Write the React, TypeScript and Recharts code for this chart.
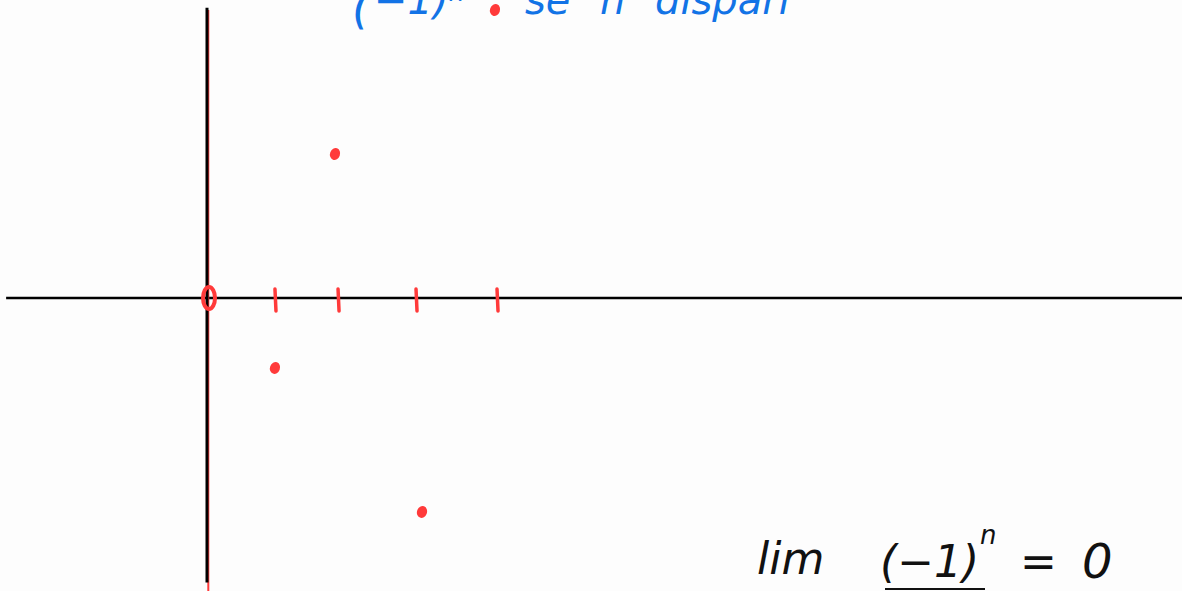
import React from "react";
import { ScatterChart, Scatter, XAxis, YAxis, ReferenceLine } from "recharts";

// sequence a_n = (-1)^n * n, sketched by hand (positions, in units)
const seqX = [0.944, 1.778, 2.986, 4.0];
const seqY = [-0.972, 2.0, -2.972, 4.0];
const tickX = [0.944, 1.82, 2.903, 4.028];
const originLabel = "0";
const topText = ["(", "−1)ⁿ", "se", "n", "dispari"];

const points = seqX.map((x, i) => ({ x, y: seqY[i] }));
const ticks = tickX.map((x) => ({ x, y: 0 }));
const origin = [{ x: 0, y: 0 }];

const RED = "#ff3a3a";
const BLUE = "#1273e6";

const W = 1182;
const H = 591;
const UNIT = 72;
const OX = 207;
const OY = 298;
const xDomain: [number, number] = [-OX / UNIT, (W - OX) / UNIT];
const yDomain: [number, number] = [-(H - OY) / UNIT, OY / UNIT];

const Dot = (p: any) => (
  <ellipse cx={p.cx} cy={p.cy} rx={5} ry={6} fill={RED} transform={`rotate(20 ${p.cx} ${p.cy})`} />
);
const Tick = (p: any) => (
  <line x1={p.cx} y1={p.cy - 9} x2={p.cx + 1} y2={p.cy + 13} stroke={RED} strokeWidth={3.5} strokeLinecap="round" />
);
const Zero = (p: any) => (
  <ellipse cx={p.cx + 2} cy={p.cy} rx={6} ry={11} fill="none" stroke={RED} strokeWidth={4} />
);

export default function App() {
  const hand: React.CSSProperties = {
    position: "absolute",
    fontFamily: "'DejaVu Sans', sans-serif",
    fontStyle: "italic",
    fontWeight: 300,
    whiteSpace: "nowrap",
    lineHeight: 1,
  };
  return (
    <div style={{ position: "absolute", left: 0, top: 0, width: W, height: H, background: "#fdfdfd", overflow: "hidden" }}>
      <ScatterChart width={W} height={H} margin={{ top: 0, right: 0, bottom: 0, left: 0 }}>
        <XAxis type="number" dataKey="x" domain={xDomain} hide allowDataOverflow />
        <YAxis type="number" dataKey="y" domain={yDomain} hide allowDataOverflow />
        <ReferenceLine
          segment={[{ x: -2.79, y: 0 }, { x: xDomain[1], y: 0 }]}
          stroke="#000"
          strokeWidth={2.5}
        />
        <ReferenceLine
          segment={[{ x: 0.018, y: 4.0 }, { x: 0.018, y: yDomain[0] }]}
          stroke={RED}
          strokeWidth={2}
        />
        <ReferenceLine
          segment={[{ x: 0, y: 4.03 }, { x: 0, y: -3.95 }]}
          stroke="#000"
          strokeWidth={3}
        />
        <Scatter data={ticks} shape={<Tick />} isAnimationActive={false} />
        <Scatter data={origin} shape={<Zero />} isAnimationActive={false} />
        <Scatter data={points} shape={<Dot />} isAnimationActive={false} />
      </ScatterChart>
      <span style={{ ...hand, color: BLUE, fontSize: 46, left: 352, top: -16 }}>{topText[0]}</span>
      <span style={{ ...hand, color: BLUE, fontSize: 40, left: 374, top: -20 }}>{topText[1]}</span>
      <span style={{ ...hand, color: BLUE, fontSize: 40, left: 525, top: -20 }}>{topText[2]}</span>
      <span style={{ ...hand, color: BLUE, fontSize: 40, left: 600, top: -20 }}>{topText[3]}</span>
      <span style={{ ...hand, color: BLUE, fontSize: 40, left: 655, top: -20 }}>{topText[4]}</span>
      <span style={{ ...hand, color: "#111", fontSize: 44, left: 757, top: 537 }}>lim</span>
      <span style={{ ...hand, color: "#111", fontSize: 44, left: 880, top: 540 }}>(−1)</span>
      <span style={{ ...hand, color: "#111", fontSize: 26, left: 980, top: 522 }}>n</span>
      <span style={{ ...hand, color: "#111", fontSize: 44, left: 1020, top: 540 }}>=</span>
      <span style={{ ...hand, color: "#111", fontSize: 48, left: 1082, top: 537 }}>{originLabel}</span>
      <div style={{ position: "absolute", left: 885, top: 588, width: 100, height: 2, background: "#111" }} />
    </div>
  );
}
